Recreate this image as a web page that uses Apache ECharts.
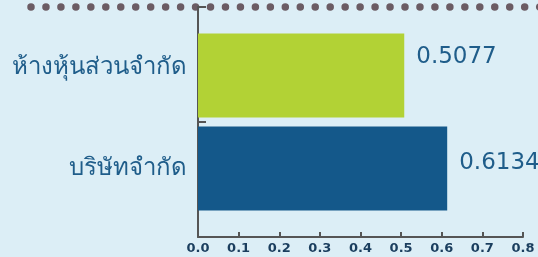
<!DOCTYPE html>
<html>
<head>
<meta charset="utf-8">
<script src="https://cdn.jsdelivr.net/npm/echarts@6/dist/echarts.min.js"></script>
<style>
  html, body { margin: 0; padding: 0; background: #dceef6; }
  #chart { width: 538px; height: 257px; }
</style>
</head>
<body>
<div id="chart"></div>
<script>
// categories bottom -> top
var categories = ['บริษัทจำกัด', 'ห้างหุ้นส่วนจำกัด'];
var companyValues = [0.6134, '-'];
var partnershipValues = ['-', 0.5077];
var xTicks = [0, 0.8, 0.1];  // min, max, interval

var chart = echarts.init(document.getElementById('chart'));
var option = {
    backgroundColor: '#dceef6',
    animation: false,
    grid: { left: 198, right: 15, top: 7, bottom: 20 },
    graphic: [{
        type: 'line',
        shape: { x1: 31, y1: 7, x2: 545, y2: 7 },
        style: { stroke: '#6b5c64', lineWidth: 7.5, lineDash: [0, 14.96], lineCap: 'round' },
        z: 0
    }],
    xAxis: {
        type: 'value',
        min: xTicks[0],
        max: xTicks[1],
        interval: xTicks[2],
        axisLine: { show: true, lineStyle: { color: '#555', width: 2 } },
        axisTick: { show: true, inside: true, length: 5, lineStyle: { color: '#555', width: 2 } },
        splitLine: { show: false },
        axisLabel: {
            margin: 5,
            color: '#1b3e5e',
            fontWeight: 'bold',
            fontSize: 13,
            fontFamily: 'DejaVu Sans',
            formatter: function (v) { return v.toFixed(1); }
        }
    },
    yAxis: {
        type: 'category',
        data: categories,
        axisLine: { show: true, lineStyle: { color: '#555', width: 2 } },
        axisTick: { show: true, inside: true, length: 8, lineStyle: { color: '#555', width: 2 } },
        axisLabel: {
            margin: 11,
            color: '#1f5d8a',
            fontSize: 24,
            fontFamily: 'Noto Sans',
            formatter: function (v, i) { return i === 0 ? '{up|' + v + '}' : '{n|' + v + '}'; },
            rich: {
                up: { fontSize: 24, color: '#1f5d8a', fontFamily: 'Noto Sans', padding: [0, 0, 22, 0] },
                n: { fontSize: 24, color: '#1f5d8a', fontFamily: 'Noto Sans', padding: [6, 0, 0, 0] }
            }
        }
    },
    series: [
        {
            type: 'bar',
            data: companyValues,
            barWidth: 84,
            barGap: '-74%',
            itemStyle: { color: '#14588a' },
            label: {
                show: true, position: 'right', distance: 12,
                fontSize: 23, color: '#1f5d8a', fontFamily: 'DejaVu Sans',
                offset: [0, -6]
            }
        },
        {
            type: 'bar',
            data: partnershipValues,
            barWidth: 84,
            itemStyle: { color: '#b2d235' },
            label: {
                show: true, position: 'right', distance: 12,
                fontSize: 23, color: '#1f5d8a', fontFamily: 'DejaVu Sans',
                offset: [0, -18]
            }
        }
    ]
};
chart.setOption(option);
</script>
</body>
</html>
